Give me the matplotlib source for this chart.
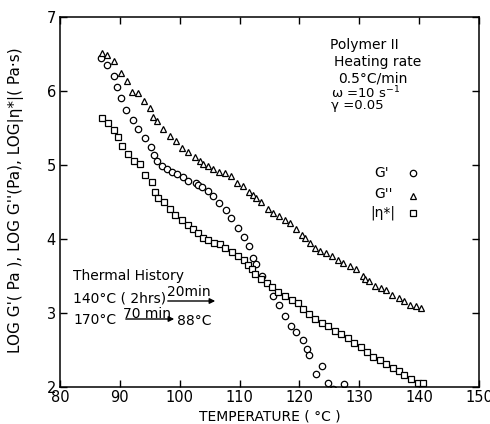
import matplotlib.pyplot as plt
import numpy as np

# G' (circles)
t_g1 = [86.9, 87.8, 88.95, 89.6, 90.2, 91.0, 92.2, 93.1, 94.2, 95.25, 95.75, 96.2, 97.0, 97.8,
        98.7, 99.6, 100.5, 101.45, 102.7, 103.1, 103.7, 104.8, 105.6, 106.6, 107.7, 108.55,
        109.7, 110.7, 111.6, 112.2, 112.7, 113.75, 115.6, 116.6, 117.6, 118.6, 119.5, 120.6,
        121.2, 121.6, 122.7, 123.7, 124.7, 125.6, 127.5]
g1 = [6.45, 6.35, 6.20, 6.06, 5.90, 5.75, 5.61, 5.48, 5.36, 5.25, 5.13, 5.05, 4.98, 4.94,
      4.90, 4.88, 4.84, 4.79, 4.76, 4.73, 4.70, 4.65, 4.58, 4.49, 4.39, 4.28,
      4.15, 4.03, 3.90, 3.75, 3.66, 3.50, 3.23, 3.11, 2.96, 2.82, 2.75, 2.63,
      2.51, 2.43, 2.18, 2.29, 2.05, 1.97, 2.04]

# G'' (triangles)
t_g2 = [87.0, 87.8, 89.05, 90.2, 91.2, 92.0, 93.1, 94.05, 95.05, 95.6, 96.2, 97.2, 98.4, 99.3,
        100.3, 101.45, 102.55, 103.4, 103.95, 104.8, 105.6, 106.6, 107.55, 108.5, 109.5, 110.5,
        111.6, 112.3, 112.8, 113.55, 114.7, 115.6, 116.55, 117.55, 118.4, 119.4, 120.5, 120.9,
        121.7, 122.55, 123.4, 124.5, 125.5, 126.45, 127.3, 128.4, 129.5, 130.6, 131.0, 131.6,
        132.7, 133.7, 134.5, 135.5, 136.6, 137.55, 138.5, 139.4, 140.3]
g2 = [6.51, 6.48, 6.41, 6.24, 6.14, 5.99, 5.97, 5.87, 5.77, 5.65, 5.59, 5.48, 5.39, 5.33,
      5.23, 5.17, 5.11, 5.06, 5.02, 4.98, 4.94, 4.91, 4.89, 4.85, 4.76, 4.72,
      4.64, 4.60, 4.55, 4.50, 4.41, 4.35, 4.31, 4.26, 4.22, 4.13, 4.06, 4.01,
      3.95, 3.88, 3.84, 3.81, 3.77, 3.72, 3.68, 3.64, 3.59, 3.50, 3.46, 3.43,
      3.37, 3.34, 3.31, 3.25, 3.20, 3.16, 3.11, 3.09, 3.07]

# |eta*| (squares)
t_eta = [87.1, 88.1, 89.1, 89.7, 90.3, 91.3, 92.3, 93.4, 94.2, 95.3, 95.9, 96.45, 97.3, 98.3,
         99.2, 100.3, 101.45, 102.3, 103.1, 103.95, 104.8, 105.7, 106.7, 107.55, 108.7, 109.8,
         110.7, 111.45, 112.0, 112.55, 113.5, 114.5, 115.5, 116.45, 117.55, 118.7, 119.8, 120.6,
         121.55, 122.55, 123.7, 124.8, 125.9, 127.0, 128.1, 129.2, 130.3, 131.3, 132.3, 133.5,
         134.5, 135.6, 136.6, 137.55, 138.7, 139.8, 140.6]
eta = [5.63, 5.57, 5.47, 5.38, 5.26, 5.15, 5.06, 5.02, 4.86, 4.77, 4.64, 4.56, 4.50, 4.40,
       4.33, 4.26, 4.19, 4.13, 4.08, 4.02, 3.99, 3.95, 3.93, 3.88, 3.82, 3.77,
       3.71, 3.65, 3.59, 3.53, 3.46, 3.41, 3.35, 3.29, 3.23, 3.18, 3.13, 3.06,
       2.99, 2.92, 2.87, 2.82, 2.76, 2.71, 2.66, 2.60, 2.54, 2.47, 2.41, 2.36,
       2.31, 2.26, 2.21, 2.16, 2.11, 2.06, 2.06]

xticks = [80, 90, 100, 110, 120, 130, 140, 150]
yticks = [2, 3, 4, 5, 6, 7]

W, H = 490, 424
plt.rcParams['font.family'] = 'DejaVu Sans'
fig = plt.figure(figsize=(W / 100, H / 100), dpi=100)
ax = fig.add_axes([60 / W, 1 - 387 / H, 419 / W, 370 / H])

mk = dict(linestyle='none', mfc='white', mec='black', mew=0.9)
ax.plot(t_g1, g1, marker='o', ms=4.6, **mk)
ax.plot(t_g2, g2, marker='^', ms=4.0, **mk)
ax.plot(t_eta, eta, marker='s', ms=4.6, **mk)

ax.set_xlim(80, 150)
ax.set_ylim(2, 7)
ax.set_xticks(xticks)
ax.set_yticks(yticks)
ax.tick_params(direction='in', length=5, width=1, labelsize=10.5, pad=3,
               top=True, right=True, labeltop=False, labelright=False)
ax.tick_params(axis='x', pad=2)
for s in ax.spines.values():
    s.set_linewidth(1.1)


def fx(x):
    return x / W


def fy(y):
    return 1 - y / H


fig.text(fx(270), fy(416), 'TEMPERATURE ( °C )', ha='center', va='center', fontsize=10)
fig.text(fx(16), fy(200), "LOG G'( Pa ), LOG G''(Pa), LOG|η*|( Pa·s)",
         rotation=90, ha='center', va='center', fontsize=11)

# conditions
fs = 10
fig.text(fx(330), fy(45), 'Polymer II', ha='left', va='center', fontsize=fs)
fig.text(fx(334), fy(62), 'Heating rate', ha='left', va='center', fontsize=fs)
fig.text(fx(338), fy(78), '0.5°C/min', ha='left', va='center', fontsize=fs)
fig.text(fx(331), fy(93), 'ω =10 s$^{-1}$', ha='left', va='center', fontsize=9.5)
fig.text(fx(331), fy(106), 'γ =0.05', ha='left', va='center', fontsize=9.5)

# legend
fig.text(fx(374), fy(173), "G'", ha='left', va='center', fontsize=fs)
fig.text(fx(374), fy(194), "G''", ha='left', va='center', fontsize=fs)
fig.text(fx(370), fy(213), "|η*|", ha='left', va='center', fontsize=fs)
fig.lines.append(plt.Line2D([fx(413)], [fy(173)], marker='o', ms=4.6, transform=fig.transFigure, **mk))
fig.lines.append(plt.Line2D([fx(413)], [fy(196)], marker='^', ms=4.0, transform=fig.transFigure, **mk))
fig.lines.append(plt.Line2D([fx(413)], [fy(213)], marker='s', ms=4.6, transform=fig.transFigure, **mk))

# thermal history
fig.text(fx(73), fy(276), 'Thermal History', ha='left', va='center', fontsize=fs)
fig.text(fx(73), fy(299), '140°C ( 2hrs)', ha='left', va='center', fontsize=fs)
fig.text(fx(167), fy(292), '20min', ha='left', va='center', fontsize=fs)
fig.text(fx(73), fy(320), '170°C', ha='left', va='center', fontsize=fs)
fig.text(fx(123), fy(314), '70 min', ha='left', va='center', fontsize=fs)
fig.text(fx(177), fy(321), '88°C', ha='left', va='center', fontsize=fs)
arr = dict(arrowstyle='-|>', color='black', lw=1.0, mutation_scale=8)
fig.add_artist(plt.matplotlib.patches.FancyArrowPatch((fx(165), fy(301)), (fx(218), fy(301)),
                                                      transform=fig.transFigure, **arr))
fig.add_artist(plt.matplotlib.patches.FancyArrowPatch((fx(123), fy(319)), (fx(177), fy(319)),
                                                      transform=fig.transFigure, **arr))

fig.savefig('out.png', dpi=100)
